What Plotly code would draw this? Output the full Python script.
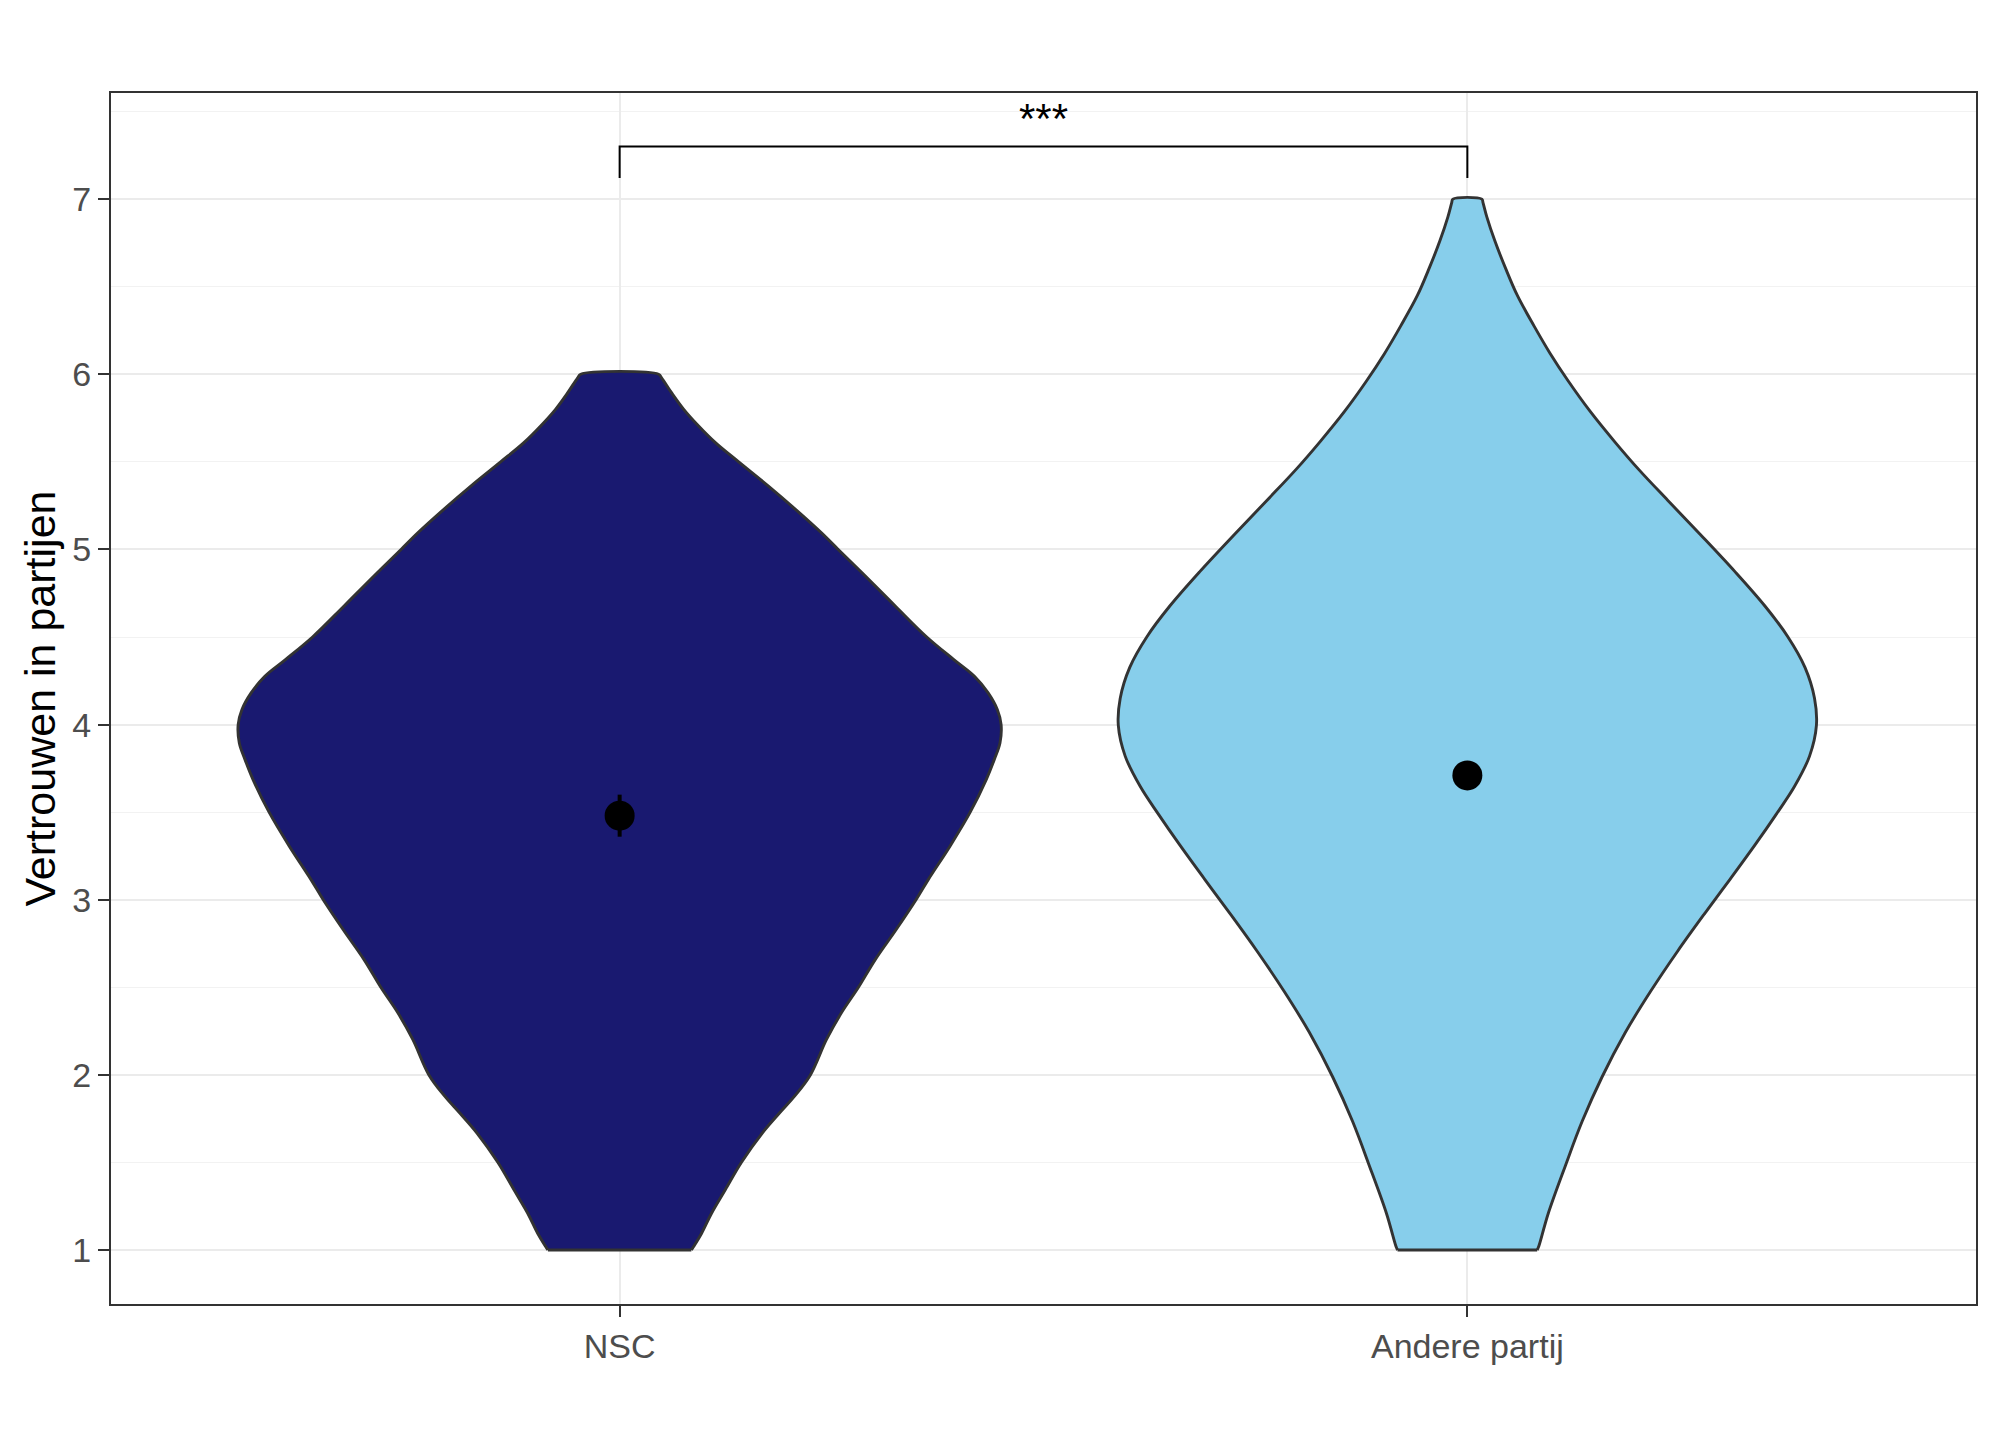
import plotly.graph_objects as go

# ---------------- data ----------------
categories = ["NSC", "Andere partij"]
cat_pos = [1, 2]

# violin outline: relative density at response level
y_nsc = [1.000, 1.020, 1.096, 1.210, 1.344, 1.500, 1.668, 1.782, 1.877, 2.000,
         2.201, 2.353, 2.500, 2.658, 2.830, 3.000, 3.115, 3.306, 3.500, 3.686,
         3.800, 3.895, 4.000, 4.086, 4.181, 4.276, 4.371, 4.500, 4.676, 4.848,
         5.000, 5.095, 5.229, 5.362, 5.500, 5.610, 5.705, 5.800, 5.895, 5.980, 6.000]
dens_nsc = [0.188, 0.194, 0.215, 0.241, 0.277, 0.319, 0.374, 0.419, 0.458, 0.500,
            0.542, 0.581, 0.626, 0.670, 0.725, 0.777, 0.809, 0.866, 0.919, 0.961,
            0.982, 0.997, 1.000, 0.990, 0.966, 0.930, 0.876, 0.805, 0.723, 0.644,
            0.573, 0.529, 0.461, 0.390, 0.312, 0.251, 0.207, 0.168, 0.136, 0.110, 0.102]

y_andere = [1.000, 1.020, 1.209, 1.482, 1.735, 1.988, 2.242, 2.476, 2.709, 2.924,
            3.118, 3.313, 3.489, 3.645, 3.820, 3.995, 4.151, 4.327, 4.502, 4.677,
            4.872, 5.087, 5.281, 5.457, 5.613, 5.788, 5.963, 6.119, 6.275, 6.450,
            6.606, 6.762, 6.899, 6.980, 7.000]
dens_andere = [0.183, 0.187, 0.212, 0.257, 0.301, 0.353, 0.414, 0.480, 0.552, 0.623,
               0.689, 0.754, 0.810, 0.857, 0.897, 0.915, 0.910, 0.885, 0.840, 0.780,
               0.702, 0.610, 0.525, 0.449, 0.387, 0.322, 0.264, 0.217, 0.175, 0.131,
               0.100, 0.072, 0.051, 0.041, 0.038]

means = [3.48, 3.71]
ci_low = [3.36, 3.67]
ci_high = [3.60, 3.75]

signif_label = "***"
signif_y = 7.3

y_ticks = [1, 2, 3, 4, 5, 6, 7]
y_title = "Vertrouwen in partijen"

fill_colors = ["#191970", "#87CEEB"]

# ---------------- figure ----------------
FONT = "Liberation Sans, Arial, sans-serif"
VIOLIN_HALF = 0.45
dens_max = max(max(dens_nsc), max(dens_andere))

fig = go.Figure()

for pos, ys, ds, col in [(cat_pos[0], y_nsc, dens_nsc, fill_colors[0]),
                         (cat_pos[1], y_andere, dens_andere, fill_colors[1])]:
    hw = [d / dens_max * VIOLIN_HALF for d in ds]
    # start at bottom-right corner, up the right side, down the left side
    xs = [pos + h for h in hw] + [pos - h for h in reversed(hw)]
    yy = list(ys) + list(reversed(ys))
    fig.add_trace(go.Scatter(
        x=xs, y=yy, mode="lines", fill="toself", fillcolor=col,
        line=dict(color="#333333", width=2.9, shape="spline", smoothing=1.0),
        hoverinfo="skip", showlegend=False))
    # closing bottom edge
    fig.add_trace(go.Scatter(
        x=[pos - hw[0], pos + hw[0]], y=[ys[0], ys[0]], mode="lines",
        line=dict(color="#333333", width=2.9),
        hoverinfo="skip", showlegend=False))

# mean + CI
fig.add_trace(go.Scatter(
    x=cat_pos, y=means, mode="markers",
    marker=dict(color="black", size=30),
    error_y=dict(type="data", symmetric=False,
                 array=[h - m for h, m in zip(ci_high, means)],
                 arrayminus=[m - l for l, m in zip(ci_low, means)],
                 color="black", thickness=4, width=0),
    showlegend=False))

# significance bracket
tip = 0.18
fig.add_trace(go.Scatter(
    x=[cat_pos[0], cat_pos[0], cat_pos[1], cat_pos[1]],
    y=[signif_y - tip, signif_y, signif_y, signif_y - tip],
    mode="lines", line=dict(color="black", width=2),
    hoverinfo="skip", showlegend=False))
fig.add_annotation(x=(cat_pos[0] + cat_pos[1]) / 2, y=signif_y, text=signif_label,
                   showarrow=False, yanchor="bottom", yshift=3,
                   font=dict(family=FONT, size=42, color="black"))

# y axis title
fig.add_annotation(xref="paper", yref="paper", x=-0.0381, y=0.5, text=y_title,
                   textangle=-90, showarrow=False, xanchor="center", yanchor="middle",
                   font=dict(family=FONT, size=43, color="black"))

fig.update_layout(
    width=1984, height=1413,
    margin=dict(l=103, r=16, t=85, b=117),
    paper_bgcolor="white", plot_bgcolor="white",
    font=dict(family=FONT),
    showlegend=False,
)
fig.update_xaxes(
    range=[0.4, 2.6], tickmode="array", tickvals=cat_pos, ticktext=categories,
    showgrid=True, gridcolor="#EBEBEB", gridwidth=2, zeroline=False,
    showline=True, mirror=True, linecolor="#333333", linewidth=2,
    ticks="outside", ticklen=11, tickwidth=2, tickcolor="#333333",
    tickfont=dict(family=FONT, size=34, color="#4D4D4D"),
)
fig.update_yaxes(
    range=[0.692, 7.606], tickmode="array", tickvals=y_ticks,
    showgrid=True, gridcolor="#EBEBEB", gridwidth=2, zeroline=False,
    minor=dict(tick0=0.5, dtick=0.5, showgrid=True, gridcolor="#F2F2F2", gridwidth=1, ticks=""),
    showline=True, mirror=True, linecolor="#333333", linewidth=2,
    ticks="outside", ticklen=11, tickwidth=2, tickcolor="#333333",
    tickfont=dict(family=FONT, size=34, color="#4D4D4D"),
)

fig.write_html("out.html")
